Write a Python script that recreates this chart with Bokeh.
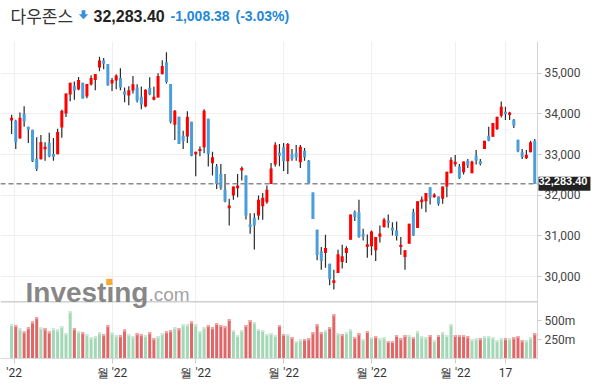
import numpy as np
from bokeh.plotting import figure
from bokeh.layouts import column
from bokeh.models import Range1d, FixedTicker, NumeralTickFormatter, Span, Label
from bokeh.embed import file_html
from bokeh.resources import INLINE

# ---------------- data ----------------
name = "다우존스"
last_price_text = "32,283.40"
change_text = "-1,008.38"
change_pct_text = "(-3.03%)"
last_price = 32283.40

opens = [33841, 33833, 33400, 34005, 33686, 33613, 32902, 32886, 33131, 33294,
         33016, 33008, 33670, 34013, 34479, 34691, 34601, 34765, 34430, 34724,
         34838, 35140, 35312, 35230, 34748, 34822, 34887, 34552, 34454, 34577,
         34650, 34421, 34185, 34642, 34348, 34405, 34977, 35271, 34740, 33735,
         33931, 33466, 33449, 33809, 33008, 33090, 33180, 33882, 32787, 32706,
         32526, 32142, 31684, 31995, 32175, 32608, 32485, 31284, 31448, 31505,
         31734, 31832, 32281, 32755, 33049, 33180, 32836, 33016, 33049, 32812,
         33098, 32853, 32068, 31153, 30622, 30582, 30320, 29846, 30091, 30361,
         30582, 30908, 31586, 31586, 31055, 30729, 30745, 30647, 30982, 31219,
         31382, 31202, 31137, 30729, 30483, 30810, 31586, 31194, 31832, 31856,
         32199, 31954, 31970, 31913, 32216, 32542, 32763, 32706, 32567, 32853,
         32543, 32976, 32837, 33139, 33466, 33441, 33629, 33956, 34054, 33972,
         33858, 33368, 33057, 32910, 33057, 33343]
highs = [33980, 33858, 34037, 34193, 33686, 33613, 33425, 33482, 33302, 33539,
         33408, 33637, 34103, 34503, 34765, 34797, 34912, 34765, 34740, 34952,
         34985, 35410, 35377, 35230, 34887, 34977, 35124, 34650, 34683, 34936,
         34732, 34675, 34609, 34903, 34667, 35002, 35320, 35516, 34740, 34095,
         33931, 33588, 34070, 33809, 33073, 33200, 34119, 33882, 33073, 32771,
         32771, 32526, 31913, 32216, 32526, 32706, 32485, 31562, 31562, 31995,
         32060, 32240, 32796, 33302, 33261, 33286, 33286, 33139, 33237, 33237,
         33163, 32869, 32068, 31153, 30729, 31031, 30320, 30173, 30663, 30786,
         30745, 31529, 31627, 31889, 31178, 31039, 31137, 30974, 31260, 31440,
         31529, 31341, 31358, 30974, 30647, 31300, 31668, 31856, 31970, 32060,
         32199, 32052, 31970, 32216, 32580, 32935, 32992, 32771, 32829, 32894,
         32850, 33115, 32894, 33343, 33687, 33776, 33932, 34307, 34177, 34054,
         33874, 33368, 33139, 33115, 33343, 33384]
lows = [33506, 33139, 33400, 33686, 33286, 32820, 32600, 32878, 32853, 32934,
        32853, 33008, 33417, 33923, 34315, 34348, 34585, 34381, 34389, 34699,
        34585, 35051, 35100, 34691, 34568, 34609, 34585, 34291, 34217, 34503,
        34283, 34119, 34168, 34462, 34340, 34405, 34977, 34748, 33768, 33359,
        33261, 33139, 33286, 32959, 32469, 32960, 33033, 32706, 32485, 32158,
        32134, 31832, 31260, 31889, 31954, 32363, 31407, 31055, 30671, 31399,
        31399, 31791, 32281, 32706, 32714, 32600, 32526, 32853, 32853, 32673,
        32853, 32281, 31415, 30402, 30173, 30222, 29789, 29683, 30091, 30198,
        30336, 30908, 31366, 30957, 30892, 30467, 30524, 30385, 30843, 31202,
        31202, 31015, 30892, 30541, 30173, 30810, 30998, 31194, 31668, 31586,
        31774, 31938, 31742, 31791, 31954, 32542, 32706, 32404, 32510, 32673,
        32543, 32755, 32731, 33139, 33327, 33441, 33605, 33915, 33850, 33850,
        33654, 33057, 32894, 32894, 33057, 32283.4]
closes = [33907, 33302, 33907, 33817, 33621, 32836, 32649, 33310, 33196, 32959,
          32951, 33555, 34078, 34503, 34765, 34577, 34838, 34381, 34740, 34887,
          34985, 35312, 35238, 34707, 34838, 34944, 34650, 34470, 34585, 34732,
          34323, 34234, 34593, 34479, 34421, 34936, 35181, 34789, 33809, 34078,
          33261, 33327, 33931, 32975, 33073, 33139, 34078, 33016, 32934, 32281,
          32175, 31848, 31750, 32216, 32240, 32673, 31505, 31219, 31260, 31889,
          31938, 32134, 32657, 33245, 32975, 32836, 33261, 32902, 32934, 33196,
          32934, 32297, 31415, 30533, 30385, 30704, 29936, 29912, 30549, 30500,
          30704, 31529, 31464, 30974, 30990, 30794, 31113, 30974, 31064, 31407,
          31317, 31137, 30998, 30786, 30647, 31300, 31015, 31856, 31897, 32060,
          31938, 32019, 31791, 32216, 32580, 32877, 32828, 32420, 32829, 32731,
          32829, 32853, 32771, 33343, 33343, 33776, 33932, 34177, 33997, 34038,
          33711, 33082, 32951, 33000, 33303, 32283.4]

# volume in millions, and whether the volume bar is drawn green (1) or red (0)
volumes = [452, 443, 399, 355, 412, 487, 544, 408, 399, 355,
           399, 382, 425, 333, 623, 399, 360, 347, 320, 281,
           294, 347, 320, 439, 342, 307, 307, 382, 320, 294,
           333, 320, 307, 347, 268, 294, 333, 360, 373, 412,
           399, 452, 452, 487, 452, 364, 417, 443, 412, 469,
           443, 425, 522, 377, 311, 377, 443, 509, 482, 390,
           377, 325, 338, 311, 443, 325, 320, 285, 232, 254,
           259, 268, 347, 452, 347, 373, 417, 583, 333, 320,
           347, 386, 285, 333, 259, 364, 285, 298, 268, 281,
           232, 232, 311, 268, 311, 311, 285, 360, 294, 281,
           311, 241, 311, 347, 311, 452, 311, 311, 311, 294,
           254, 268, 268, 294, 294, 281, 241, 268, 268, 268,
           281, 298, 241, 241, 281, 333]
vol_up = [1, 0, 1, 0, 0, 0, 0, 1, 0, 0,
          1, 1, 1, 1, 1, 0, 1, 0, 1, 1,
          1, 1, 0, 0, 1, 1, 0, 0, 1, 1,
          0, 0, 1, 0, 0, 1, 1, 0, 0, 1,
          0, 1, 1, 0, 1, 1, 1, 0, 0, 0,
          0, 0, 0, 1, 1, 1, 0, 0, 1, 1,
          1, 1, 1, 1, 0, 0, 1, 0, 1, 1,
          0, 0, 0, 0, 0, 1, 0, 0, 1, 0,
          1, 1, 0, 0, 1, 0, 1, 0, 1, 1,
          0, 0, 0, 0, 0, 1, 0, 1, 1, 1,
          0, 1, 0, 1, 1, 1, 0, 0, 0, 0,
          1, 1, 0, 1, 1, 1, 1, 1, 0, 1,
          0, 0, 0, 1, 1, 0]

x_tick_pos = [1.6, 25, 45, 66, 87, 107, 119]
x_tick_labels = ["'22", "월 '22", "월 '22", "월 '22", "월 '22", "월 '22", "17"]
price_ticks = [30000, 31000, 32000, 33000, 34000, 35000]
vol_ticks = [250, 500]
vol_tick_labels = ["250m", "500m"]

# ---------------- layout ----------------
W = 600
HEADER_H = 27
MAIN_H = 356
TOP_PANEL = 13
BOTTOM_PANEL = 25
FRAME_RIGHT = 537
X_RANGE = (-1.65, 126.66)
PRICE_RANGE = (27988, 35782)
VOL_RANGE = (0, 4184)
VOL_PANEL_TOP = 750
FRAME_TOP_PAGE = HEADER_H + TOP_PANEL
FRAME_BOTTOM_PAGE = HEADER_H + MAIN_H - BOTTOM_PANEL
BASELINE_SHIFT = 0.3   # em, correction for the alphabetic baseline

n = len(closes)
idx = np.arange(1, n + 1)
o = np.array(opens, float); c = np.array(closes, float)
h = np.array(highs, float); l = np.array(lows, float)
up = c >= o

# ---- header figure (title texts and the arrow icon) ----
hdr = figure(width=W, height=HEADER_H, output_backend="svg", toolbar_location=None,
             x_range=Range1d(0, FRAME_RIGHT), y_range=Range1d(HEADER_H, 0),
             min_border_left=0, min_border_top=0, min_border_bottom=0,
             min_border_right=W - FRAME_RIGHT,
             outline_line_color=None, x_axis_type=None, y_axis_type=None,
             background_fill_color="white", border_fill_color="white")
hdr.grid.visible = False

def htext(x, base, text, font, size_px, color, style="normal"):
    y = base - BASELINE_SHIFT * size_px
    hdr.add_layout(Label(x=x, y=HEADER_H - y, x_units="screen", y_units="screen",
                         text=text, text_font=font, text_font_size=f"{size_px}px",
                         text_color=color, text_font_style=style, text_baseline="alphabetic"))

htext(10, 20, name, "Noto Sans CJK KR", 17, "#333333")
htext(93, 20, last_price_text, "Liberation Sans", 16, "#222222", "bold")
htext(170, 20, change_text, "Liberation Sans", 14, "#2388d8", "bold")
htext(235, 20, change_pct_text, "Liberation Sans", 14, "#2388d8", "bold")

# down-arrow icon next to the price
ax0, ay0 = 83, 10
arrow_x = [ax0 - 1.6, ax0 + 1.6, ax0 + 1.6, ax0 + 4.2, ax0, ax0 - 4.2, ax0 - 1.6]
arrow_y = [ay0, ay0, ay0 + 4, ay0 + 4, ay0 + 8.5, ay0 + 4, ay0 + 4]
hdr.patch(arrow_x, arrow_y, fill_color="#3a8ed8", line_color="#3a8ed8", line_width=0.5)

# ---- main chart ----
p = figure(width=W, height=MAIN_H, output_backend="svg", toolbar_location=None,
           x_range=Range1d(*X_RANGE), y_range=Range1d(*PRICE_RANGE),
           y_axis_location="right",
           min_border_left=0, min_border_right=W - FRAME_RIGHT,
           min_border_top=TOP_PANEL, min_border_bottom=BOTTOM_PANEL,
           outline_line_color=None, background_fill_color="white", border_fill_color="white")
p.extra_y_ranges = {"vol": Range1d(*VOL_RANGE)}

p.xgrid.ticker = FixedTicker(ticks=x_tick_pos)
p.ygrid.ticker = FixedTicker(ticks=price_ticks)
p.xgrid.grid_line_color = "#efefef"
p.ygrid.grid_line_color = "#efefef"

# volume bars
vcol = np.where(np.array(vol_up) == 1, "#a3d7b5", "#e06767")
vcap = np.where(np.array(vol_up) == 1, "#cdebd7", "#f2a9a9")
vol = np.array(volumes, float)
px_per_vol = (FRAME_BOTTOM_PAGE - FRAME_TOP_PAGE) / (VOL_RANGE[1] - VOL_RANGE[0])
cap = 2 / px_per_vol
p.vbar(x=idx, width=0.72, top=vol, bottom=0, y_range_name="vol",
       fill_color=vcol, line_color=None)
p.vbar(x=idx, width=0.72, top=vol, bottom=vol - cap, y_range_name="vol",
       fill_color=vcap, line_color=None)

p.add_layout(Span(location=VOL_PANEL_TOP, dimension="width", y_range_name="vol",
                  line_color="#cfcfcf", line_width=1.5))

# candles
p.segment(x0=idx, y0=h, x1=idx, y1=l, line_color="#2b2b2b", line_width=1.2)
ccol = np.where(up, "#ff0000", "#4a9fdb")
p.vbar(x=idx, width=0.72, top=np.maximum(o, c), bottom=np.minimum(o, c),
       fill_color=ccol, line_color=None)

p.add_layout(Span(location=last_price, dimension="width", line_color="#8a8a8a",
                  line_width=1.5, line_dash="5 3"))

# axes
def price_at_vol(v):
    return int(round(PRICE_RANGE[0] + (v - VOL_RANGE[0]) / (VOL_RANGE[1] - VOL_RANGE[0])
                     * (PRICE_RANGE[1] - PRICE_RANGE[0])))

vol_tick_prices = [price_at_vol(v) for v in vol_ticks]
yax = p.yaxis[0]
yax.ticker = FixedTicker(ticks=price_ticks + vol_tick_prices)
yax.formatter = NumeralTickFormatter(format="0,0")
ov = {}
for tp, lab in zip(vol_tick_prices, vol_tick_labels):
    ov[tp] = lab
    ov[str(tp)] = lab
yax.major_label_overrides = ov
yax.axis_line_color = "#d4d4d4"
yax.major_tick_line_color = "#cccccc"
yax.major_tick_out = 4
yax.major_tick_in = 0
yax.minor_tick_line_color = None
yax.major_label_standoff = 3
yax.major_label_text_font = "Roboto"
yax.major_label_text_font_size = "12px"
yax.major_label_text_color = "#444444"

xax = p.xaxis[0]
xax.ticker = FixedTicker(ticks=x_tick_pos)
xov = {}
for tp, lab in zip(x_tick_pos, x_tick_labels):
    xov[tp] = lab
    xov[str(tp)] = lab
xax.major_label_overrides = xov
xax.axis_line_color = "#d9d9d9"
xax.major_tick_line_color = "#cccccc"
xax.major_tick_out = 5
xax.major_tick_in = 0
xax.minor_tick_line_color = None
xax.major_label_standoff = 2
xax.major_label_text_font = "Roboto"
xax.major_label_text_font_size = "12px"
xax.major_label_text_color = "#333333"

# price box beside the right axis (kept in a side panel so it is not clipped)
p.add_layout(Label(x=X_RANGE[1], y=last_price, text=last_price_text, x_offset=1,
                   text_align="left", text_baseline="middle",
                   text_font="Liberation Sans", text_font_style="bold",
                   text_font_size="11px", text_color="white",
                   background_fill_color="#222222", padding=(0, 3, 0, 6)), "above")

# watermark (screen units relative to the plot frame)
def wlabel(x, base, text, font, size_px, color, style="normal", alpha=1.0, baseline="alphabetic"):
    y = base - BASELINE_SHIFT * size_px if baseline == "alphabetic" else base
    p.add_layout(Label(x=x, y=FRAME_BOTTOM_PAGE - y, x_units="screen", y_units="screen",
                       text=text, text_font=font, text_font_size=f"{size_px}px", text_color=color,
                       text_font_style=style, text_alpha=alpha, text_baseline=baseline))

wlabel(25, 300, "Investing", "Liberation Sans", 28, "#7f7f7f", "bold", 0.95)
wlabel(148, 300, ".com", "Liberation Sans", 19, "#a3a3a3")
wlabel(105, 281, "■", "DejaVu Sans", 8, "#f6a935", baseline="middle")

open("out.html", "w").write(file_html(column(hdr, p, spacing=0), INLINE))
